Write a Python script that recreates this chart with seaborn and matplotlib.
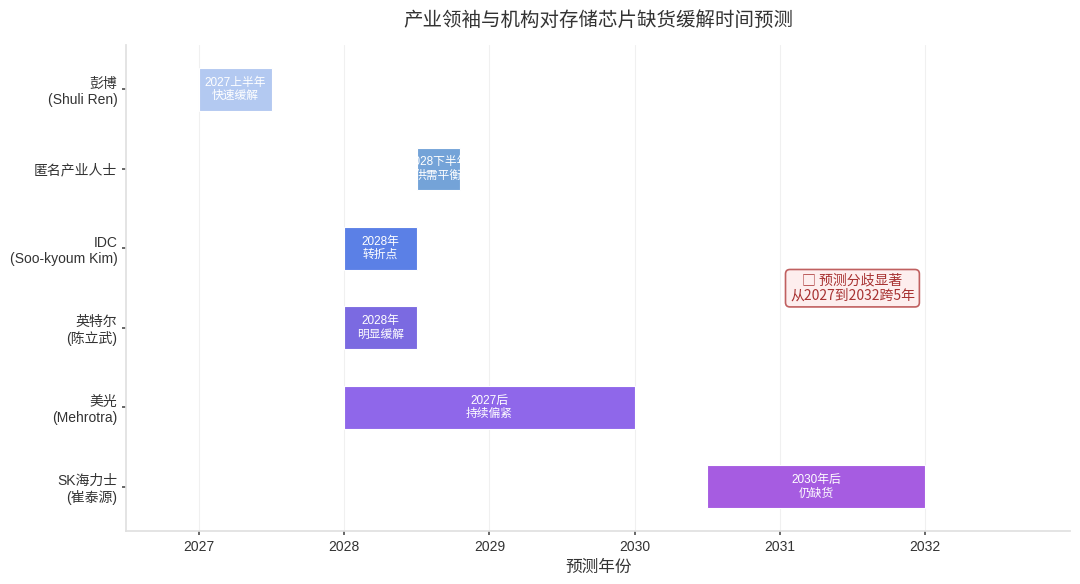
import matplotlib
matplotlib.use('Agg')
import matplotlib.pyplot as plt
import seaborn as sns

sns.set_theme(style='ticks')
plt.rcParams['font.family'] = ['Liberation Sans', 'Noto Sans CJK SC', 'DejaVu Sans']
plt.rcParams['axes.unicode_minus'] = False

# forecasts: who, start year, end year, label
sources = ['彭博\n(Shuli Ren)', '匿名产业人士', 'IDC\n(Soo-kyoum Kim)',
           '英特尔\n(陈立武)', '美光\n(Mehrotra)', 'SK海力士\n(崔泰源)']
starts = [2027.0, 2028.5, 2028.0, 2028.0, 2028.0, 2030.5]
ends = [2027.5, 2028.8, 2028.5, 2028.5, 2030.0, 2032.0]
labels = ['2027上半年\n快速缓解', '2028下半年\n供需平衡', '2028年\n转折点',
          '2028年\n明显缓解', '2027后\n持续偏紧', '2030年后\n仍缺货']
colors = ['#b3c9f1', '#74a3d8', '#5b80e6', '#7b6ae1', '#8f67ea', '#a65ce1']
years = [2027, 2028, 2029, 2030, 2031, 2032]

fig, ax = plt.subplots(figsize=(10.8, 5.84), dpi=100)

rows = list(range(len(sources)))
widths = [e - s for s, e in zip(starts, ends)]
bars = ax.barh(rows, widths, left=starts, height=0.54, color=colors,
               edgecolor='white', linewidth=0.8, zorder=3)

for bar, s, w, lab, r in zip(bars, starts, widths, labels, rows):
    t = ax.text(s + w / 2, r, lab, ha='center', va='center', color='white',
                fontsize=8.5, linespacing=1.15, zorder=4)
    t.set_clip_path(bar)

ax.text(2031.5, 2.5, '□ 预测分歧显著\n从2027到2032跨5年', ha='center', va='center',
        color='#a83232', fontsize=10, linespacing=1.05, zorder=5,
        family=['Noto Sans CJK SC', 'DejaVu Sans'],
        bbox=dict(boxstyle='round,pad=0.32', fc='#fdeeee', ec='#c06060', lw=1.2))

ax.set_yticks(rows)
ax.set_yticklabels(sources, fontsize=10, color='#333333')
ax.set_xticks(years)
ax.set_xticklabels([str(y) for y in years], fontsize=10, color='#333333')
ax.set_xlim(2026.5, 2033)
ax.set_ylim(5.56, -0.56)
ax.set_xlabel('预测年份', fontsize=12, color='#333333')
ax.set_title('产业领袖与机构对存储芯片缺货缓解时间预测', fontsize=14,
             color='#333333', pad=14)

ax.grid(axis='x', color='#f0f0f0', linewidth=0.8, zorder=0)
ax.tick_params(axis='both', length=3, color='#555555')
sns.despine(ax=ax)
for sp in ['left', 'bottom']:
    ax.spines[sp].set_color('#e0e0e0')

plt.subplots_adjust(left=0.117, right=0.991, top=0.923, bottom=0.09)
fig.savefig('out.png', dpi=100)
